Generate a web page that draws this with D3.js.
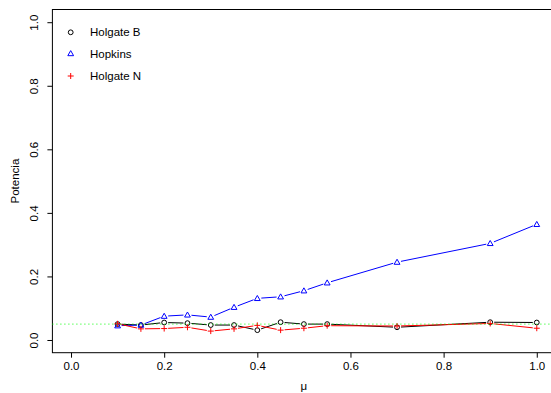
<!DOCTYPE html>
<html>
<head>
<meta charset="utf-8">
<script src="https://cdn.jsdelivr.net/npm/d3@7"></script>
<style>
  html, body { margin: 0; padding: 0; background: #fff; }
  svg { display: block; }
  text { font-family: "Liberation Sans", Arial, Helvetica, sans-serif; fill: #000; }
</style>
</head>
<body>
<svg id="chart" width="551" height="393"></svg>
<script>
// Power of the tests as a function of mu
const mu = [0.1, 0.15, 0.2, 0.25, 0.3, 0.35, 0.4, 0.45, 0.5, 0.55, 0.7, 0.9, 1.0];
const holgateB = [0.050, 0.047, 0.055, 0.053, 0.047, 0.047, 0.031, 0.056, 0.050, 0.050, 0.040, 0.056, 0.055];
const hopkins  = [0.045, 0.047, 0.075, 0.079, 0.072, 0.103, 0.131, 0.136, 0.155, 0.180, 0.245, 0.304, 0.364];
const holgateN = [0.051, 0.035, 0.036, 0.040, 0.028, 0.035, 0.046, 0.031, 0.037, 0.045, 0.044, 0.052, 0.037];
const xTicks = [0, 0.2, 0.4, 0.6, 0.8, 1.0];
const yTicks = [0, 0.2, 0.4, 0.6, 0.8, 1.0];
const seriesNames = ["Holgate B", "Hopkins", "Holgate N"];
const alphaLevel = 0.05;

const svg = d3.select("#chart");
const fontSize = 11.5;

// plot region (R style: domain padded by 4% on each side)
const plotLeft = 52.4, plotRight = 555.4, plotTop = 9.5, plotBottom = 352.7;
const x = d3.scaleLinear().domain([-0.04, 1.04]).range([plotLeft, plotRight]);
const y = d3.scaleLinear().domain([-0.04, 1.04]).range([plotBottom, plotTop]);

// frame
svg.append("rect")
  .attr("x", plotLeft).attr("y", plotTop)
  .attr("width", plotRight - plotLeft).attr("height", plotBottom - plotTop)
  .attr("fill", "none").attr("stroke", "#000").attr("stroke-width", 1);

// x axis
const xAxis = d3.axisBottom(x).tickValues(xTicks).tickFormat(d3.format(".1f")).tickSize(5).tickPadding(4);
const gx = svg.append("g").attr("transform", `translate(0,${plotBottom})`).call(xAxis);
gx.select(".domain").remove();
gx.selectAll("line").attr("stroke", "#000");
gx.selectAll("text").attr("font-size", fontSize).attr("font-family", "Liberation Sans, Arial, sans-serif").attr("fill", "#000");

// y axis (labels rotated, R default)
const yAxis = d3.axisLeft(y).tickValues(yTicks).tickFormat(d3.format(".1f")).tickSize(5).tickPadding(0);
const gy = svg.append("g").attr("transform", `translate(${plotLeft},0)`).call(yAxis);
gy.select(".domain").remove();
gy.selectAll("line").attr("stroke", "#000");
gy.selectAll("text")
  .attr("font-size", fontSize)
  .attr("font-family", "Liberation Sans, Arial, sans-serif")
  .attr("fill", "#000")
  .attr("x", null).attr("dy", null)
  .attr("text-anchor", "middle")
  .attr("transform", "translate(-14,0) rotate(-90)");

// axis titles
svg.append("text")
  .attr("x", x(0.5)).attr("y", 390)
  .attr("text-anchor", "middle").attr("font-size", fontSize)
  .text("\u03bc");
svg.append("text")
  .attr("transform", `translate(19,${(plotTop + plotBottom) / 2}) rotate(-90)`)
  .attr("text-anchor", "middle").attr("font-size", fontSize)
  .text("Potencia");

// series drawn as R type="b": points with gaps in the connecting segments
const gap = 4;
function drawSeries(values, color, shape) {
  const g = svg.append("g");
  const pts = mu.map((m, i) => [x(m), y(values[i])]);
  for (let i = 0; i < pts.length - 1; i++) {
    const [x0, y0] = pts[i], [x1, y1] = pts[i + 1];
    const dx = x1 - x0, dy = y1 - y0, len = Math.hypot(dx, dy);
    if (len <= 2 * gap) continue;
    const ux = dx / len, uy = dy / len;
    g.append("line")
      .attr("x1", x0 + ux * gap).attr("y1", y0 + uy * gap)
      .attr("x2", x1 - ux * gap).attr("y2", y1 - uy * gap)
      .attr("stroke", color).attr("stroke-width", 1);
  }
  pts.forEach(p => drawSymbol(g, p[0], p[1], color, shape));
}

function drawSymbol(g, px, py, color, shape) {
  if (shape === "circle") {
    g.append("circle").attr("cx", px).attr("cy", py).attr("r", 2.4)
      .attr("fill", "none").attr("stroke", color).attr("stroke-width", 1);
  } else if (shape === "triangle") {
    const s = 2.9;
    g.append("path")
      .attr("d", `M${px},${py - s}L${px + s},${py + s * 0.75}L${px - s},${py + s * 0.75}Z`)
      .attr("fill", "none").attr("stroke", color).attr("stroke-width", 1);
  } else {
    const s = 3;
    g.append("path")
      .attr("d", `M${px - s},${py}H${px + s}M${px},${py - s}V${py + s}`)
      .attr("fill", "none").attr("stroke", color).attr("stroke-width", 1);
  }
}

const colors = ["#000000", "#0000ff", "#ff0000"];
const shapes = ["circle", "triangle", "cross"];
drawSeries(holgateB, colors[0], shapes[0]);
drawSeries(hopkins, colors[1], shapes[1]);
drawSeries(holgateN, colors[2], shapes[2]);

// nominal level reference line
svg.append("line")
  .attr("x1", plotLeft).attr("x2", plotRight)
  .attr("y1", y(alphaLevel)).attr("y2", y(alphaLevel))
  .attr("stroke", "#00ff00").attr("stroke-width", 1)
  .attr("stroke-dasharray", "1,3");

// legend
const legendY = [32.3, 53.5, 76];
seriesNames.forEach((name, i) => {
  const lg = svg.append("g");
  drawSymbol(lg, 70.7, legendY[i], colors[i], shapes[i]);
  lg.append("text")
    .attr("x", 90).attr("y", legendY[i])
    .attr("dy", "0.36em")
    .attr("font-size", fontSize)
    .text(name);
});
</script>
</body>
</html>
